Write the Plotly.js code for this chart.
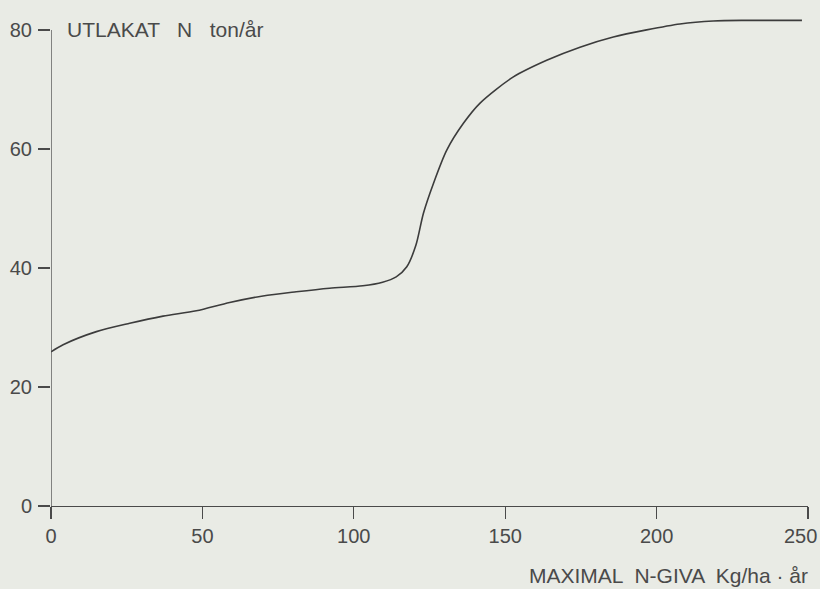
<!DOCTYPE html>
<html><head><meta charset="utf-8">
<script src="https://cdn.plot.ly/plotly-3.0.1.min.js"></script>
<style>body{margin:0;background:#e9ebe5}</style>
</head><body><div id="chart" style="width:820px;height:589px"></div>
<script>
const nGiva = [0, 4, 15, 26, 37, 48, 59, 70, 81, 92, 103, 109.5, 114, 117.5, 120.5, 123, 126.3, 130.7, 136.2, 141.7, 152.7, 163.7, 174.7, 185.7, 196.7, 207.7, 218.7, 229.7, 248];
const utlakat = [25.9, 27.1, 29.3, 30.7, 31.9, 32.8, 34.2, 35.3, 36.0, 36.6, 37.0, 37.6, 38.5, 40.2, 43.8, 49.2, 54.2, 59.8, 64.3, 67.7, 72.1, 74.9, 77.1, 78.8, 80.0, 81.0, 81.5, 81.6, 81.6];
const xTicks = [0, 50, 100, 150, 200, 250];
const yTicks = [0, 20, 40, 60, 80];
const yTitle = "UTLAKAT   N   ton/år";
const xTitle = "MAXIMAL  N-GIVA  Kg/ha · år";

const ink = "#4a4a4a";
const font = {family: "Liberation Sans, Arial, sans-serif", size: 21, color: ink};
const tickFont = {family: "Liberation Sans, Arial, sans-serif", size: 20, color: ink};
const lastX = xTicks[xTicks.length - 1];

Plotly.newPlot("chart", [{
  x: nGiva, y: utlakat, mode: "lines", type: "scatter",
  line: {color: "#3c3c3c", width: 1.6, shape: "spline", smoothing: 0.8},
  hoverinfo: "skip"
}], {
  width: 820, height: 589,
  paper_bgcolor: "#e9ebe5", plot_bgcolor: "#e9ebe5",
  margin: {l: 51, r: 12, t: 18, b: 83},
  showlegend: false,
  font: font,
  xaxis: {range: [0, 250], tickvals: xTicks,
    ticktext: xTicks.map(v => v === lastX ? "" : String(v)),
    showline: true, linecolor: ink, linewidth: 1.3, showgrid: false, zeroline: false,
    ticks: "outside", ticklen: 12, tickwidth: 1.3, tickcolor: ink, ticklabelstandoff: 0,
    tickfont: tickFont, fixedrange: true},
  yaxis: {range: [0, 82], tickvals: yTicks, ticktext: yTicks.map(String),
    showline: false, showgrid: false, zeroline: false,
    ticks: "outside", ticklen: 12, tickwidth: 1.3, tickcolor: ink, ticklabelstandoff: 2,
    tickfont: tickFont, fixedrange: true},
  shapes: [{type: "line", xref: "x", yref: "y", x0: 0, x1: 0, y0: 0, y1: 80,
    line: {color: ink, width: 1.3}}],
  annotations: [
    {text: String(lastX), xref: "x", yref: "paper", x: lastX, y: 0, xanchor: "right", yanchor: "top",
     xshift: 11, yshift: -17, showarrow: false, font: tickFont},
    {text: yTitle, xref: "paper", yref: "y", x: 0.018, y: 80, xanchor: "left", yanchor: "middle",
     showarrow: false, font: font},
    {text: xTitle, xref: "paper", yref: "paper", x: 1.003, y: -0.143, xanchor: "right", yanchor: "middle",
     showarrow: false, font: font}
  ]
}, {displayModeBar: false, staticPlot: true});
</script></body></html>
